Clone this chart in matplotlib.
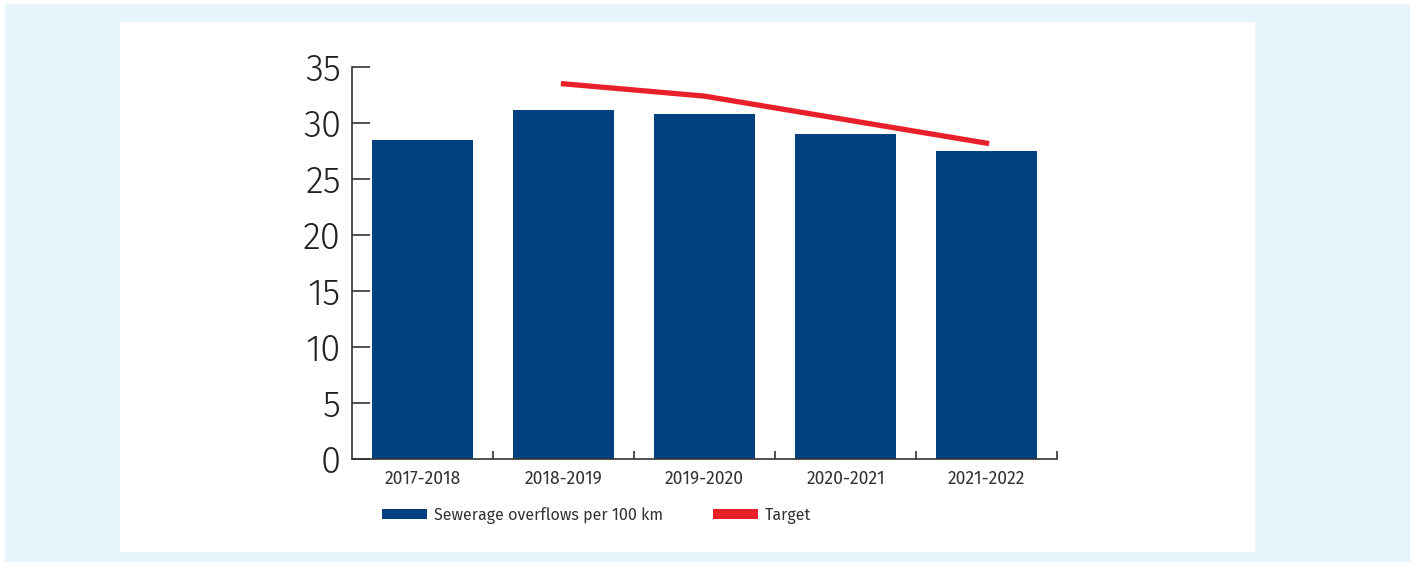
import matplotlib
matplotlib.use("Agg")
import matplotlib.pyplot as plt
from matplotlib.patches import Rectangle, Patch
import numpy as np

categories = ["2017-2018", "2018-2019", "2019-2020", "2020-2021", "2021-2022"]
overflows = [28.5, 31.2, 30.8, 29.0, 27.5]
target_cats = ["2018-2019", "2019-2020", "2020-2021", "2021-2022"]
target = [33.5, 32.4, 30.3, 28.2]
yticks = [0, 5, 10, 15, 20, 25, 30, 35]

W, H = 1413, 562
fig = plt.figure(figsize=(W / 100, H / 100), dpi=100)
fig.patch.set_facecolor("white")

def px_rect(x0, y0, x1, y1, color):
    fig.patches.append(Rectangle((x0 / W, 1 - y1 / H), (x1 - x0) / W, (y1 - y0) / H,
                                 transform=fig.transFigure, facecolor=color,
                                 edgecolor="none", zorder=-10))

px_rect(5, 4, 1410, 562, "#e6f4fc")
px_rect(120, 22, 1255, 552, "white")

font = ["Fira Sans", "DejaVu Sans"]
ax_l, ax_r, ax_b, ax_t = 352, 1057, 459, 67
ax = fig.add_axes([ax_l / W, 1 - ax_b / H, (ax_r - ax_l) / W, (ax_b - ax_t) / H])
ax.set_facecolor("none")

x = np.arange(len(categories))
ax.bar(x, overflows, width=0.72, color="#02417f", zorder=2,
       label="Sewerage overflows per 100 km")
tx = [categories.index(c) for c in target_cats]
ax.plot(tx, target, color="#e8202a", lw=3.8, solid_capstyle="projecting", zorder=3,
        label="Target")

ax.set_xlim(-0.5, len(categories) - 0.5)
ax.set_ylim(0, 35)
ax.set_yticks(yticks)
ax.set_yticklabels([str(v) for v in yticks], fontsize=26.5, family=font,
                   fontweight=300, color="#222222")
ax.set_xticks(x)
ax.set_xticklabels(categories, fontsize=12.6, family=font, color="#333333")
ax.tick_params(axis="x", length=0, pad=8)
ax.set_xticks(np.arange(0.5, len(categories), 1.0), minor=True)
ax.tick_params(axis="x", which="minor", direction="in", length=6, width=1.2, color="#333333")
ax.tick_params(axis="y", direction="in", length=13, width=1.2, color="#333333", pad=8)

for s in ["top", "right"]:
    ax.spines[s].set_visible(False)
for s in ["left", "bottom"]:
    ax.spines[s].set_color("#333333")
    ax.spines[s].set_linewidth(1.2)

fs = 11.6
fpx = fs * 100 / 72
handles = [Patch(facecolor="#02417f", edgecolor="none"),
           Patch(facecolor="#e8202a", edgecolor="none")]
leg = fig.legend(handles, ["Sewerage overflows per 100 km", "Target"],
                 loc="center left", bbox_to_anchor=((382 - 0.9 * fpx) / W, 1 - 515 / H),
                 ncol=2, frameon=False, prop={"family": font, "size": fs},
                 handlelength=45 / fpx, handleheight=0.6, columnspacing=50 / fpx,
                 handletextpad=7 / fpx, labelcolor="#333333")

fig.savefig("out.png", dpi=100)
